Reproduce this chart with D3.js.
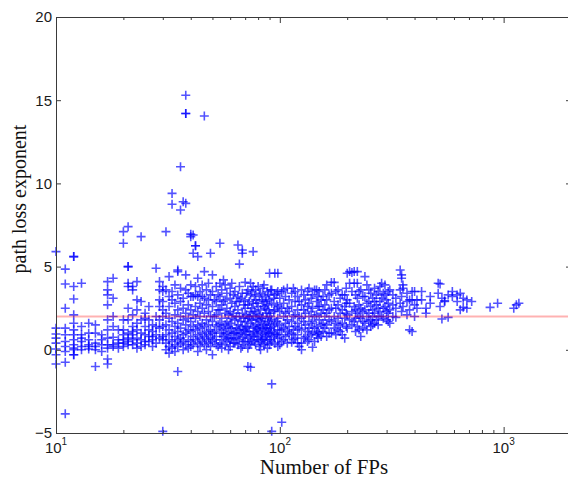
<!DOCTYPE html>
<html>
<head>
<meta charset="utf-8">
<script src="https://cdn.jsdelivr.net/npm/d3@7"></script>
<style>
  html, body { margin: 0; padding: 0; background: #fff; }
  svg { display: block; }
</style>
</head>
<body>
<svg id="chart" width="568" height="480"></svg>
<script>
// Estimated path loss exponent for each fingerprint set, against the number of FPs.
// Each entry: [number of FPs, [exponents observed at that count]]
const columnsFew = [
  [10, [5.9, 1.3, 0.95, 0.7, 0.4, 0.05, -0.3, -0.85]],
  [11, [4.85, 3.95, 2.5, 1.3, 0.9, 0.5, 0.2, -0.1, -0.75, -3.85]],
  [12, [5.6, 5.6, 3.8, 3.05, 2.1, 1.6, 1.2, 0.9, 0.6, 0.3, 0.1, 0.0, -0.3, -0.3]],
  [13, [4.0, 1.4, 0.9, 0.7, 0.5, 0.2, 0.0]],
  [14, [1.6, 1.0, 0.6, 0.3, 0.2, 0.05]],
  [15, [1.5, 1.0, 0.4, 0.2, 0.0, -1.0]],
  [16, [0.9, 0.6, 0.3, -0.1]],
  [17, [4.1, 3.6, 3.3, 2.7, 1.8, 1.2, 0.7, 0.3, 0.1, -0.55, -0.85]],
  [18, [4.3, 3.1, 2.0, 1.4, 0.75, 0.3, 0.2]],
  [19, [1.2, 0.6, 0.4, 0.1]],
  [20, [7.1, 6.4, 1.8, 1.2, 0.9, 0.6, 0.4, 0.2]],
  [21, [7.4, 5.0, 5.0, 4.0, 3.8, 2.5, 1.8, 1.0, 0.7, 0.5, 0.3]],
  [22, [3.8, 3.6, 2.1, 1.4, 1.1, 0.9, 0.6, 0.3]],
  [23, [4.1, 3.0, 2.4, 1.6, 1.2, 0.7, 0.4, 0.1]],
  [24, [6.8, 2.9, 1.8, 1.0, 0.6, 0.2]],
  [25, [2.2, 1.9, 1.4, 0.9, 0.5, 0.3]],
  [26, [2.6, 1.8, 1.2, 0.8, 0.5]],
  [27, [1.5, 1.1, 0.8, 0.6, 0.2]],
  [28, [4.9, 2.0, 1.4, 0.9, 0.4]],
  [29, [4.1, 3.6, 3.0, 2.6, 1.8, 1.3, 0.7]],
  [30, [3.8, 3.5, 2.9, 2.4, 2.0, 1.4, 0.8, 0.6, -4.9]]
];

const columnsMid = [
  [31, [7.1, 3.6, 2.2, 1.5, 0.9, 0.4, 0.0]],
  [32, [4.4, 3.2, 2.6, 1.9, 1.2, 0.6, 0.2, -0.2]],
  [33, [9.4, 8.75, 3.5, 3.0, 1.7, 1.0, 0.5, 0.1]],
  [34, [3.9, 2.8, 2.1, 1.4, 0.8, 0.3, -0.1]],
  [35, [4.8, 4.7, 3.3, 2.4, 1.6, 1.1, 0.6, 0.2, -1.3]],
  [36, [11.0, 8.4, 3.7, 2.9, 2.0, 1.3, 0.7, 0.4]],
  [37, [8.9, 3.1, 2.5, 1.8, 0.9, 0.5, 0.0]],
  [38, [15.3, 14.2, 14.2, 8.8, 4.5, 3.6, 2.2, 1.5, 1.0, 0.3]],
  [39, [3.4, 2.7, 1.9, 1.2, 0.6, 0.1]],
  [40, [6.95, 6.8, 3.9, 3.2, 2.4, 1.7, 1.1, 0.5, 0.2]],
  [41, [6.9, 5.8, 3.2, 2.1, 1.4, 0.8, 0.3]],
  [42, [6.25, 6.25, 3.8, 3.3, 2.6, 1.9, 1.2, 0.6]],
  [43, [5.6, 4.3, 3.2, 2.3, 1.5, 0.9, 0.4, -0.1]],
  [44, [3.5, 2.8, 2.0, 1.3, 0.7, 0.2]],
  [45, [3.9, 3.2, 2.5, 1.6, 1.0, 0.5]],
  [46, [14.05, 4.7, 3.1, 2.2, 1.4, 0.8, 0.3]],
  [47, [3.6, 2.7, 1.8, 1.1, 0.6, 0.0]],
  [48, [4.0, 3.0, 2.3, 1.5, 0.9, 0.4]],
  [49, [5.8, 3.3, 2.0, 1.2, 0.7, 0.2]],
  [50, [4.5, 3.5, 2.6, 1.7, 1.0, 0.5, -0.3]],
  [51, [3.0, 2.0, 1.1, 0.6]],
  [52, [3.8, 2.9, 2.1, 1.4, 0.8, 0.3]],
  [53, [3.3, 2.4, 1.5, 0.2]],
  [54, [6.4, 4.0, 3.2, 2.4, 1.6, 1.0, 0.4]],
  [55, [3.6, 2.7, 1.9, 1.2, 0.6, 0.1]],
  [56, [4.2, 2.9, 1.3, 0.8]],
  [57, [3.9, 3.0, 2.2, 1.5, 0.9, 0.3]],
  [58, [3.4, 2.5, 1.7, 1.0, 0.5]],
  [59, [2.1, 1.4, 0.7, 0.0]],
  [60, [3.7, 3.1, 2.3, 1.6, 1.1, 0.6, 0.2]],
  [61, [4.0, 2.8, 1.9, 1.3, 0.7]],
  [62, [3.3, 2.2, 1.0, 0.4]],
  [63, [3.5, 2.6, 1.8, 1.0, 0.4]],
  [64, [2.9, 2.0, 1.3, 0.7]],
  [65, [6.3, 3.2, 2.4, 1.5, 0.9, 0.3]],
  [66, [5.15, 3.8, 2.9, 2.0, 1.2, 0.6]],
  [67, [3.1, 1.7, 1.0, 0.1]],
  [68, [6.0, 5.8, 3.4, 2.2, 1.4, 0.8, 0.2]],
  [69, [2.7, 1.9, 1.2, 0.5]],
  [70, [4.05, 3.0, 2.5, 1.7, 1.1, 0.5]],
  [71, [3.4, 2.1, 1.4, 0.9]],
  [72, [3.6, 2.7, 1.9, 1.3, 0.7, 0.1, -1.0]],
  [73, [2.9, 2.0, 1.1, 0.3]],
  [74, [4.0, 3.3, 2.3, 1.6, 0.9, 0.4, -1.05]],
  [75, [3.5, 2.5, 1.8, 0.6]],
  [76, [5.9, 3.8, 2.8, 2.0, 1.4, 0.8]],
  [77, [3.2, 2.3, 1.1, 0.5]],
  [78, [3.6, 3.0, 2.2, 1.5, 1.0, 0.3]],
  [79, [2.8, 1.9, 1.3, 0.8]],
  [80, [3.8, 2.6, 1.8, 1.2, 0.6]],
  [81, [3.3, 2.1, 1.4, 0.2]],
  [82, [3.4, 2.4, 1.7, 1.1, 0.5, 0.0]],
  [83, [3.0, 1.9, 0.9, 0.6]],
  [84, [3.7, 2.9, 2.0, 1.3, 0.7]],
  [85, [3.9, 2.6, 1.5, 0.3]],
  [86, [3.2, 2.5, 1.6, 1.0, 0.4]],
  [87, [2.9, 2.2, 1.3, 0.8]],
  [88, [3.5, 2.7, 1.9, 1.2, 0.6, 0.1]],
  [89, [3.3, 2.4, 1.7, 1.0]],
  [90, [4.6, 3.0, 2.2, 1.5, 0.9, 0.3]],
  [91, [3.6, 2.0, 1.3, 0.6]],
  [92, [3.6, 2.8, 1.8, 1.1, 0.5, -2.05, -4.9]],
  [94, [3.1, 2.3, 1.4, 0.8]],
  [95, [4.6, 3.3, 2.4, 1.6, 1.0, 0.4]],
  [97, [3.4, 2.7, 1.7, 0.9]],
  [98, [4.6, 3.5, 2.6, 1.9, 1.2, 0.7, 0.2]],
  [100, [3.1, 2.3, 1.5, 0.9, 0.3]]
];

const columnsMany = [
  [102, [3.5, 2.5, 1.2, 0.5, -4.35]],
  [104, [3.6, 2.8, 2.0, 1.3, 0.6]],
  [106, [3.2, 2.2, 1.6, 0.8]],
  [108, [3.7, 2.5, 1.8, 1.1, 0.4]],
  [110, [3.0, 2.3, 1.4, 0.9]],
  [113, [3.4, 2.6, 1.7, 1.0, 0.45]],
  [115, [3.7, 2.0, 1.2, 0.6]],
  [117, [3.5, 2.9, 2.1, 1.4, 0.7]],
  [120, [3.2, 2.4, 1.6, 0.9, 0.4]],
  [122, [2.9, 2.0, 1.3, 0.2]],
  [125, [3.6, 2.7, 1.9, 1.2, 0.4, 0.0]],
  [128, [3.3, 2.4, 1.7, 0.7]],
  [130, [3.0, 2.2, 1.5, 0.8]],
  [133, [3.5, 2.6, 1.1, 0.5]],
  [135, [3.7, 2.8, 2.0, 1.3, 0.6]],
  [138, [3.1, 2.3, 1.6, 0.9]],
  [140, [3.3, 2.5, 1.7, 1.0, 0.15]],
  [143, [3.6, 2.0, 1.3, 0.5]],
  [146, [3.6, 2.9, 2.1, 1.4, 0.9]],
  [148, [3.2, 2.6, 1.1, 0.7]],
  [150, [3.5, 2.6, 1.8, 1.0]],
  [153, [3.0, 2.2, 1.5, 0.8]],
  [156, [3.2, 2.4, 1.6, 1.1]],
  [159, [3.6, 2.7, 2.0, 1.3]],
  [162, [3.9, 3.0, 2.2, 1.5, 0.8]],
  [166, [3.3, 2.4, 1.8, 1.0]],
  [170, [4.05, 3.4, 2.5, 1.7, 1.0]],
  [175, [4.05, 2.9, 2.0, 1.3]],
  [178, [3.5, 2.5, 1.6, 0.9]],
  [182, [3.6, 2.7, 1.9, 1.2]],
  [186, [3.1, 2.2, 1.5, 1.1]],
  [190, [3.3, 2.4, 1.6, 0.9]],
  [195, [3.3, 2.6, 1.9, 0.7]],
  [198, [3.7, 2.8, 2.2, 1.4]],
  [200, [4.6, 3.0, 2.1, 1.3]],
  [205, [4.7, 4.0, 2.8, 1.8]],
  [210, [4.65, 3.5, 2.3, 1.5]],
  [215, [4.7, 4.0, 2.6, 1.7]],
  [218, [3.3, 2.4, 1.9, 1.1]],
  [222, [4.7, 4.0, 3.1, 2.2, 1.4]],
  [226, [3.5, 2.7, 2.0, 1.2]],
  [230, [3.6, 2.5, 1.9, 0.8]],
  [235, [3.2, 2.3, 1.7, 1.3]],
  [240, [4.4, 3.2, 2.4, 1.6]],
  [245, [3.9, 2.8, 2.0, 1.2]],
  [250, [3.6, 2.9, 2.2, 1.7]],
  [255, [3.4, 2.6, 1.8, 1.4]],
  [260, [3.1, 2.4, 2.0, 1.5]],
  [265, [3.7, 2.9, 2.2, 1.6]],
  [270, [3.3, 2.7, 1.8]],
  [275, [3.5, 2.5, 2.0, 1.5]],
  [280, [3.8, 2.9, 2.3]],
  [285, [4.0, 3.1, 2.0]],
  [290, [3.4, 2.5, 1.9]],
  [295, [3.9, 3.3, 2.6]],
  [300, [3.0, 2.3, 1.8]],
  [305, [3.5, 2.8, 2.2, 1.7]],
  [310, [3.6, 2.4, 1.6]]
];

const columnsLarge = [
  [320, [3.3, 2.7, 2.0]],
  [330, [3.1, 2.5, 1.95]],
  [345, [4.8, 3.6, 2.8]],
  [350, [4.5, 4.3, 3.2, 2.3]],
  [355, [3.9, 3.7, 2.6]],
  [370, [3.4, 2.9, 2.1]],
  [380, [3.0, 2.4, 1.2]],
  [390, [3.5, 3.0, 1.1]],
  [400, [3.5, 2.7, 2.0]],
  [410, [3.0, 2.5]],
  [430, [3.5, 3.0]],
  [450, [2.5, 2.2]],
  [470, [3.2, 2.8]],
  [510, [4.0, 3.4]],
  [520, [3.95, 2.6]],
  [530, [3.1, 1.85]],
  [545, [2.95, 2.9]],
  [565, [3.3, 1.95]],
  [590, [3.5, 3.2]],
  [620, [3.3, 2.9]],
  [640, [3.4, 2.4]],
  [660, [3.1, 2.55]],
  [685, [3.0, 2.5]],
  [720, [2.9]],
  [870, [2.55]],
  [940, [2.8]],
  [1110, [2.5]],
  [1140, [2.7]],
  [1170, [2.8]]
];

const refExponent = 2;               // free-space reference level
const xDomain = [10, 2000];
const yDomain = [-5, 20];
const xMajorTicks = [10, 100, 1000];
const xMinorTicks = [20, 30, 40, 50, 60, 70, 80, 90, 200, 300, 400, 500, 600, 700, 800, 900];
const yTicks = [-5, 0, 5, 10, 15, 20];
const xTitle = "Number of FPs";
const yTitle = "path loss exponent";

// ---- layout ----
const svg = d3.select("#chart");
const plotLeft = 56, plotRight = 571, plotTop = 17, plotBottom = 433;

const x = d3.scaleLog().domain(xDomain).range([plotLeft, plotRight]);
const y = d3.scaleLinear().domain(yDomain).range([plotBottom, plotTop]);

const points = [columnsFew, columnsMid, columnsMany, columnsLarge]
  .flat()
  .flatMap(([fps, vals]) => vals.map(v => ({ fps, v })));

const axisColor = "#3a3a3a";
const tickFont = "'Liberation Sans', Arial, Helvetica, sans-serif";
const titleFont = "'Liberation Serif', 'Times New Roman', Times, serif";

// ---- markers ----
svg.append("g")
  .selectAll("path")
  .data(points)
  .join("path")
  .attr("transform", d => `translate(${x(d.fps)},${y(d.v)})`)
  .attr("d", "M-4.5,0H4.5M0,-4.5V4.5")
  .attr("stroke", "#0000ff")
  .attr("stroke-opacity", 0.68)
  .attr("stroke-width", 1.6)
  .attr("fill", "none");

// ---- reference line ----
svg.append("line")
  .attr("x1", x(xDomain[0])).attr("x2", x(xDomain[1]))
  .attr("y1", y(refExponent)).attr("y2", y(refExponent))
  .attr("stroke", "#ff0000")
  .attr("stroke-opacity", 0.3)
  .attr("stroke-width", 2);

// ---- axes (inward ticks on all four sides) ----
function styleAxis(g) {
  g.select(".domain").attr("stroke", axisColor).attr("stroke-width", 1);
  g.selectAll(".tick line").attr("stroke", axisColor).attr("stroke-width", 1);
  g.selectAll("text").remove();
}

svg.append("g").attr("transform", `translate(0,${plotBottom})`)
  .call(d3.axisBottom(x).tickValues(xMajorTicks).tickSizeInner(-6).tickSizeOuter(0))
  .call(styleAxis);
svg.append("g").attr("transform", `translate(0,${plotBottom})`)
  .call(d3.axisBottom(x).tickValues(xMinorTicks).tickSizeInner(-3).tickSizeOuter(0))
  .call(styleAxis);
svg.append("g").attr("transform", `translate(0,${plotTop})`)
  .call(d3.axisTop(x).tickValues(xMajorTicks).tickSizeInner(-6).tickSizeOuter(0))
  .call(styleAxis);
svg.append("g").attr("transform", `translate(0,${plotTop})`)
  .call(d3.axisTop(x).tickValues(xMinorTicks).tickSizeInner(-3).tickSizeOuter(0))
  .call(styleAxis);
svg.append("g").attr("transform", `translate(${plotLeft},0)`)
  .call(d3.axisLeft(y).tickValues(yTicks).tickSizeInner(-5).tickSizeOuter(0))
  .call(styleAxis);
svg.append("g").attr("transform", `translate(${plotRight},0)`)
  .call(d3.axisRight(y).tickValues(yTicks).tickSizeInner(-5).tickSizeOuter(0))
  .call(styleAxis);

// ---- tick labels ----
svg.append("g")
  .selectAll("text")
  .data(yTicks)
  .join("text")
  .attr("x", plotLeft - 4)
  .attr("y", d => y(d))
  .attr("dy", "0.36em")
  .attr("text-anchor", "end")
  .attr("font-family", tickFont)
  .attr("font-size", 15)
  .attr("fill", "#1a1a1a")
  .text(d => d < 0 ? "\u2212" + Math.abs(d) : d);

const xl = svg.append("g")
  .selectAll("text")
  .data(xMajorTicks)
  .join("text")
  .attr("x", d => x(d))
  .attr("y", plotBottom + 20)
  .attr("text-anchor", "middle")
  .attr("font-family", tickFont)
  .attr("font-size", 15)
  .attr("fill", "#1a1a1a");
xl.append("tspan").text("10");
xl.append("tspan")
  .attr("dy", -8)
  .attr("font-size", 10)
  .text(d => Math.round(Math.log10(d)));

// ---- axis titles ----
svg.append("text")
  .attr("x", 324)
  .attr("y", 474)
  .attr("text-anchor", "middle")
  .attr("font-family", titleFont)
  .attr("font-size", 21)
  .attr("fill", "#111")
  .text(xTitle);

svg.append("text")
  .attr("transform", "translate(26,199) rotate(-90)")
  .attr("text-anchor", "middle")
  .attr("font-family", titleFont)
  .attr("font-size", 20)
  .attr("fill", "#111")
  .text(yTitle);
</script>
</body>
</html>
